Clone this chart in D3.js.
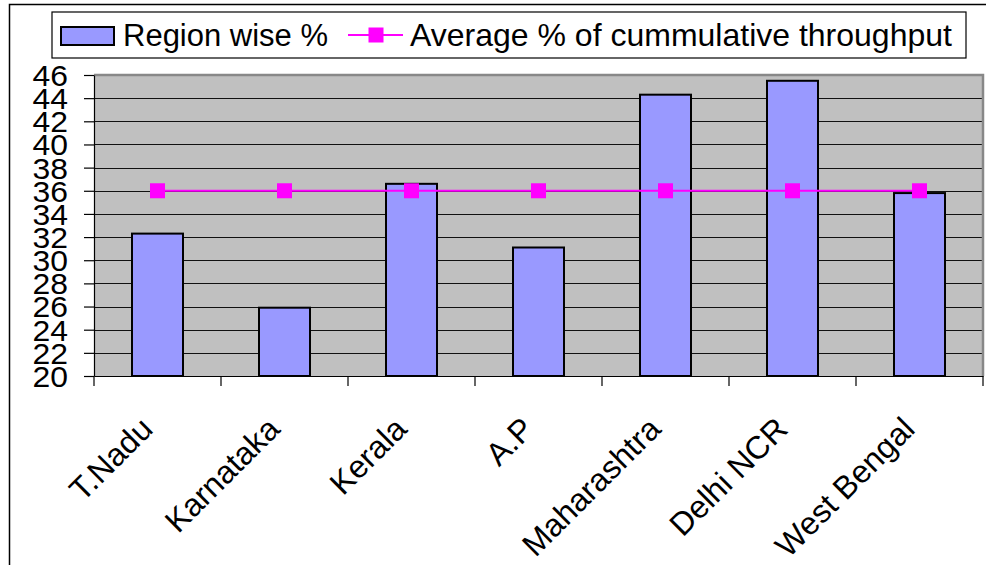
<!DOCTYPE html>
<html>
<head>
<meta charset="utf-8">
<script src="https://cdn.jsdelivr.net/npm/d3@7"></script>
<style>
  html, body { margin: 0; padding: 0; background: #fff; }
  svg { display: block; font-family: "Liberation Sans", Arial, sans-serif; }
</style>
</head>
<body>
<svg id="chart" width="991" height="565"></svg>
<script>
// Regions and their share of throughput
const regions = ["T.Nadu", "Karnataka", "Kerala", "A.P", "Maharashtra", "Delhi NCR", "West Bengal"];
const regionWise = [32.3, 25.9, 36.6, 31.1, 44.3, 45.5, 35.8];
const averageCumulative = [36, 36, 36, 36, 36, 36, 36];
const yTicks = [20, 22, 24, 26, 28, 30, 32, 34, 36, 38, 40, 42, 44, 46];
const seriesNames = ["Region wise %", "Average % of cummulative throughput"];

const svg = d3.select("#chart");
const plot = { left: 94, right: 983, top: 75, bottom: 376 };

const x = d3.scaleBand().domain(regions).range([plot.left, plot.right]).paddingInner(0).paddingOuter(0);
const y = d3.scaleLinear().domain([20, 46]).range([plot.bottom, plot.top]);

// Outer chart frame (top and left edges)
svg.append("path")
  .attr("d", "M9.5,565 V4.5 H986")
  .attr("fill", "none").attr("stroke", "#000").attr("stroke-width", 1.5);

// Plot background
svg.append("rect")
  .attr("x", plot.left).attr("y", plot.top)
  .attr("width", plot.right - plot.left).attr("height", plot.bottom - plot.top)
  .attr("fill", "#c0c0c0");

// Horizontal gridlines
svg.append("g").selectAll("line").data(yTicks.filter(d => d > 20 && d < 46)).join("line")
  .attr("x1", plot.left).attr("x2", plot.right)
  .attr("y1", d => Math.round(y(d)) + 0.5).attr("y2", d => Math.round(y(d)) + 0.5)
  .attr("stroke", "#111").attr("stroke-width", 1.2);

// Plot border (top and right)
svg.append("path")
  .attr("d", `M${plot.left},${plot.top} H${plot.right} V${plot.bottom}`)
  .attr("fill", "none").attr("stroke", "#888").attr("stroke-width", 2.5);

// Bars
const barW = 51;
svg.append("g").selectAll("rect").data(regions).join("rect")
  .attr("x", d => x(d) + x.bandwidth() / 2 - barW / 2)
  .attr("y", (d, i) => y(regionWise[i]))
  .attr("width", barW)
  .attr("height", (d, i) => y(20) - y(regionWise[i]))
  .attr("fill", "#9999ff").attr("stroke", "#000").attr("stroke-width", 2);

// Y axis
const yAxis = svg.append("g").attr("transform", `translate(${plot.left},0)`)
  .call(d3.axisLeft(y).tickValues(yTicks).tickSize(10).tickPadding(14).tickSizeOuter(0));
yAxis.select(".domain").attr("stroke", "#000").attr("stroke-width", 1.2);
yAxis.selectAll(".tick line").attr("stroke", "#000").attr("stroke-width", 1.2);
yAxis.selectAll(".tick text")
  .attr("font-size", 29).attr("fill", "#000")
  .attr("font-family", "Liberation Sans, Arial, sans-serif")
  .attr("dy", "0.36em")
  // slightly widened digits
  .attr("transform", "scale(1.1,1)")
  .attr("x", -26 / 1.1);

// X axis
const xAxis = svg.append("g").attr("transform", `translate(0,${plot.bottom})`)
  .call(d3.axisBottom(x).tickSize(0).tickSizeOuter(0).tickFormat(""));
xAxis.select(".domain").attr("stroke", "#000").attr("stroke-width", 1.2);
// Category boundary ticks
const boundaries = regions.map(d => x(d)).concat([x(regions[regions.length - 1]) + x.bandwidth()]);
svg.append("g").selectAll("line").data(boundaries).join("line")
  .attr("x1", d => d).attr("x2", d => d)
  .attr("y1", plot.bottom).attr("y2", plot.bottom + 10)
  .attr("stroke", "#000").attr("stroke-width", 1.2);

// Rotated category labels
svg.append("g").selectAll("text").data(regions).join("text")
  .attr("transform", d => `translate(${x(d) + x.bandwidth() / 2 - 3},${plot.bottom + 55}) rotate(-45)`)
  .attr("text-anchor", "end")
  .attr("font-size", 32)
  .attr("fill", "#000")
  .text(d => d);

// Average line with square markers
const cx = d => x(d) + x.bandwidth() / 2;
svg.append("path")
  .datum(regions)
  .attr("d", d3.line().x(d => cx(d)).y((d, i) => y(averageCumulative[i])))
  .attr("fill", "none").attr("stroke", "#ff00ff").attr("stroke-width", 2);
const mk = 15;
svg.append("g").selectAll("rect").data(regions).join("rect")
  .attr("x", d => cx(d) - mk / 2)
  .attr("y", (d, i) => y(averageCumulative[i]) - mk / 2)
  .attr("width", mk).attr("height", mk)
  .attr("fill", "#ff00ff");

// Legend
const lg = svg.append("g");
lg.append("rect").attr("x", 52).attr("y", 12).attr("width", 914).attr("height", 46)
  .attr("fill", "#fff").attr("stroke", "#000").attr("stroke-width", 1.2);
lg.append("rect").attr("x", 61).attr("y", 27).attr("width", 53).attr("height", 18)
  .attr("fill", "#9999ff").attr("stroke", "#000").attr("stroke-width", 2);
lg.append("text").attr("x", 123).attr("y", 46).attr("font-size", 31).attr("fill", "#000")
  .text(seriesNames[0]);
lg.append("line").attr("x1", 348).attr("x2", 403).attr("y1", 35).attr("y2", 35)
  .attr("stroke", "#ff00ff").attr("stroke-width", 2);
lg.append("rect").attr("x", 376 - mk / 2).attr("y", 35 - mk / 2).attr("width", mk).attr("height", mk)
  .attr("fill", "#ff00ff");
lg.append("text").attr("x", 410).attr("y", 46).attr("font-size", 32).attr("fill", "#000")
  .text(seriesNames[1]);
</script>
</body>
</html>
